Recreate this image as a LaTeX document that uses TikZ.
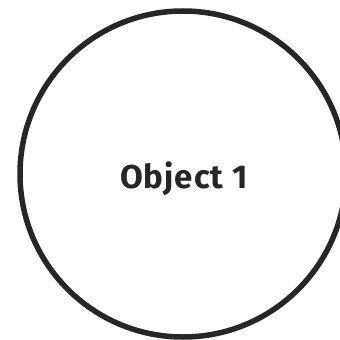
\documentclass[tikz,border=0pt]{standalone}
\usepackage{fontspec}
\setmainfont{Fira Sans}
\newfontfamily\objfont[LetterSpace=3]{Fira Sans}
\usepackage{tikz}
\usetikzlibrary{positioning}
\definecolor{ink}{HTML}{262626}

\begin{document}
\begin{tikzpicture}[x=1pt,y=-1pt,
  objet/.style={draw=ink,text=ink,circle,line width=5.5pt,minimum size=326pt,inner sep=0pt},
  objtext/.style={text=ink,inner sep=0pt,anchor=base,font=\objfont\fontsize{33}{38}\selectfont\bfseries}]
\useasboundingbox (0,0) rectangle (340,340);
\node[objet] (Obj1) at (183,174) {};
\node[objtext] (Lbl1) at (184,188) {Object 1};
\end{tikzpicture}
\end{document}
